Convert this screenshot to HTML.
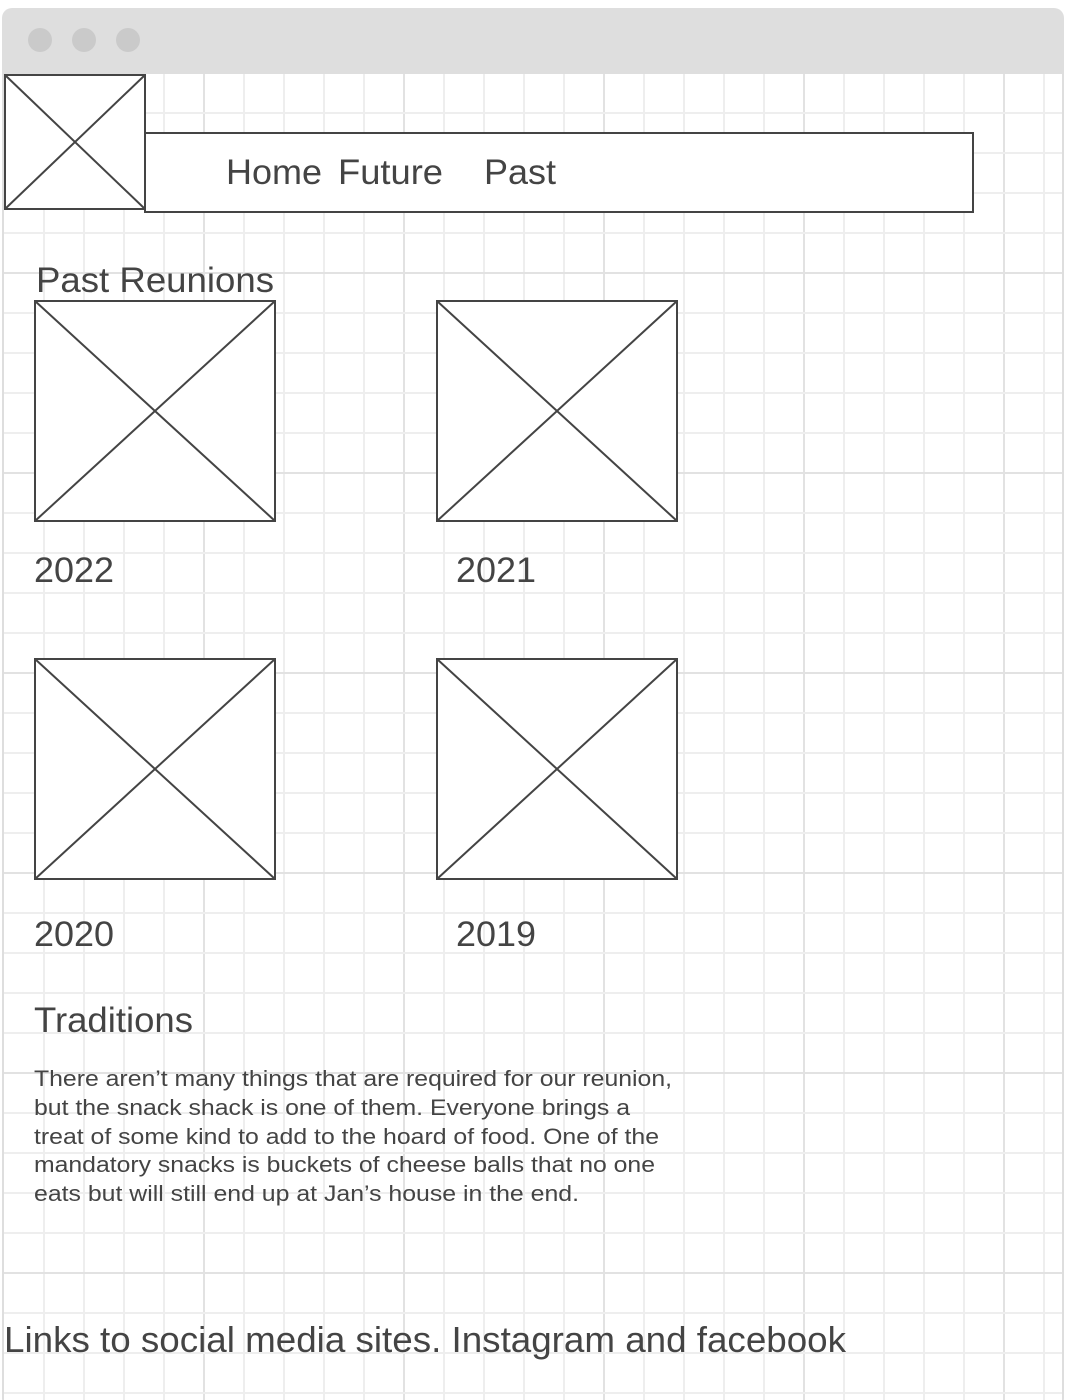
<!DOCTYPE html>
<html><head><meta charset="utf-8"><style>
html,body{margin:0;padding:0;background:#fff;width:1066px;height:1400px;overflow:hidden}
svg{display:block}
text{font-family:"Liberation Sans",sans-serif;fill:#444}
</style></head><body>
<svg width="1066" height="1400" viewBox="0 0 1066 1400">
<rect x="0" y="0" width="1066" height="1400" fill="#fff"/>
<rect x="2" y="8" width="1062" height="1400" rx="10" fill="#dedede"/>
<rect x="4" y="74" width="1058" height="1326" fill="#fff"/>
<g id="grid"></g>
<circle cx="40" cy="40" r="12" fill="#cacaca"/>
<circle cx="84" cy="40" r="12" fill="#cacaca"/>
<circle cx="128" cy="40" r="12" fill="#cacaca"/>
<g stroke="#444" stroke-width="2" fill="#fff">
<g><rect x="5" y="75" width="140" height="134"/><line x1="5" y1="75" x2="145" y2="209"/><line x1="145" y1="75" x2="5" y2="209"/></g>
<rect x="145" y="133" width="828" height="79"/>
<g><rect x="35" y="301" width="240" height="220"/><line x1="35" y1="301" x2="275" y2="521"/><line x1="275" y1="301" x2="35" y2="521"/></g>
<g><rect x="437" y="301" width="240" height="220"/><line x1="437" y1="301" x2="677" y2="521"/><line x1="677" y1="301" x2="437" y2="521"/></g>
<g><rect x="35" y="659" width="240" height="220"/><line x1="35" y1="659" x2="275" y2="879"/><line x1="275" y1="659" x2="35" y2="879"/></g>
<g><rect x="437" y="659" width="240" height="220"/><line x1="437" y1="659" x2="677" y2="879"/><line x1="677" y1="659" x2="437" y2="879"/></g>
</g>
<text x="226" y="184" font-size="35" textLength="96" lengthAdjust="spacingAndGlyphs">Home</text>
<text x="338" y="184" font-size="35" textLength="105" lengthAdjust="spacingAndGlyphs">Future</text>
<text x="484" y="184" font-size="35" textLength="72" lengthAdjust="spacingAndGlyphs">Past</text>
<text x="36" y="292" font-size="35" textLength="238" lengthAdjust="spacingAndGlyphs">Past Reunions</text>
<text x="34" y="582" font-size="35" textLength="80" lengthAdjust="spacingAndGlyphs">2022</text>
<text x="456" y="582" font-size="35" textLength="80" lengthAdjust="spacingAndGlyphs">2021</text>
<text x="34" y="946" font-size="35" textLength="80" lengthAdjust="spacingAndGlyphs">2020</text>
<text x="456" y="946" font-size="35" textLength="80" lengthAdjust="spacingAndGlyphs">2019</text>
<text x="34" y="1032" font-size="35" textLength="159" lengthAdjust="spacingAndGlyphs">Traditions</text>
<g font-size="22">
<text x="34" y="1086" textLength="638" lengthAdjust="spacingAndGlyphs">There aren’t many things that are required for our reunion,</text>
<text x="34" y="1115" textLength="596" lengthAdjust="spacingAndGlyphs">but the snack shack is one of them. Everyone brings a</text>
<text x="34" y="1144" textLength="625" lengthAdjust="spacingAndGlyphs">treat of some kind to add to the hoard of food. One of the</text>
<text x="34" y="1172" textLength="621" lengthAdjust="spacingAndGlyphs">mandatory snacks is buckets of cheese balls that no one</text>
<text x="34" y="1201" textLength="545" lengthAdjust="spacingAndGlyphs">eats but will still end up at Jan’s house in the end.</text>
</g>
<text x="4" y="1352" font-size="36" textLength="842" lengthAdjust="spacingAndGlyphs">Links to social media sites. Instagram and facebook</text>
</svg>
<script>
var g=document.getElementById('grid');var ns='http://www.w3.org/2000/svg';
for(var x=44;x<1062;x+=40){var l=document.createElementNS(ns,'line');l.setAttribute('x1',x);l.setAttribute('x2',x);l.setAttribute('y1',74);l.setAttribute('y2',1400);l.setAttribute('stroke',(x-4)%200===0?'#e2e2e2':'#eeeeee');l.setAttribute('stroke-width',2);


g.appendChild(l);}
for(var y=114;y<1400;y+=40){var l=document.createElementNS(ns,'line');l.setAttribute('y1',y-1);l.setAttribute('y2',y-1);l.setAttribute('x1',4);l.setAttribute('x2',1062);l.setAttribute('stroke',(y-74)%200===0?'#e2e2e2':'#eeeeee');l.setAttribute('stroke-width',2);


g.appendChild(l);}
</script>
</body></html>
